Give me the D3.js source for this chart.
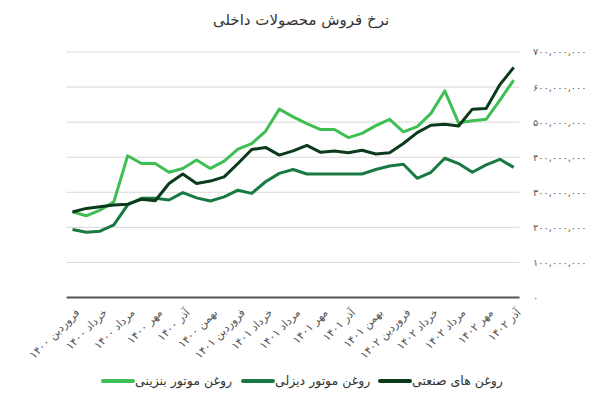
<!DOCTYPE html>
<html><head><meta charset="utf-8">
<script src="https://cdn.jsdelivr.net/npm/d3@7"></script>
<style>
body{margin:0;background:#fff;}
svg text{font-family:"DejaVu Sans","Noto Sans",sans-serif;}
</style></head>
<body><svg id="c" width="600" height="404"></svg>
<script>
const months = ["فروردین","اردیبهشت","خرداد","تیر","مرداد","شهریور","مهر","آبان","آذر","دی","بهمن","اسفند"];
const categories = [];
["۱۴۰۰","۱۴۰۱","۱۴۰۲"].forEach((y,yi)=>{ months.forEach((m,mi)=>{ if(yi<2 || mi<9) categories.push(m+" "+y); }); });

const benzini = [244,233,249,273,404,382,382,357,368,392,368,389,423,439,474,537,515,496,479,479,456,468,490,508,472,487,525,589,498,504,508,563,620];
const sanati  = [244,254,259,264,266,280,276,325,352,325,332,344,382,422,428,406,418,434,414,418,413,420,409,413,439,470,491,494,489,537,539,607,656];
const dizeli  = [194,186,189,207,264,283,283,278,299,284,275,287,306,297,330,354,365,352,352,352,352,352,365,375,380,340,357,397,382,357,378,394,371];
const yTicks = [0,100,200,300,400,500,600,700];
const seriesNames = ["روغن موتور بنزینی","روغن موتور دیزلی","روغن های صنعتی"];
const colors = ["#3fbf53","#187a42","#0b3a1d"];

const toFa = s => String(s).replace(/\d/g, d => "۰۱۲۳۴۵۶۷۸۹"[d]);
const svg = d3.select("#c");
const L=66.7, R=519.5, T=52, B=297.5;
const x = d3.scalePoint().domain(categories).range([L,R]).padding(0.42);
const y = d3.scaleLinear().domain([0,700]).range([B,T]);

// grid
svg.append("g").selectAll("line").data(yTicks.filter(d=>d>0)).join("line")
  .attr("x1",L).attr("x2",R).attr("y1",d=>y(d)).attr("y2",d=>y(d))
  .attr("stroke","#d9d9d9").attr("stroke-width",1);
// y labels
svg.append("g").selectAll("text").data(yTicks).join("text")
  .attr("x",533).attr("y",d=>y(d)).attr("dy","0.35em")
  .attr("font-size",9.8).attr("fill","#555")
  .text(d=> d===0 ? "۰" : toFa(d3.format(",")(d*1e6)));
// baseline
svg.append("line").attr("x1",L).attr("x2",R).attr("y1",B).attr("y2",B)
  .attr("stroke","#555").attr("stroke-width",2);
// x labels
svg.append("g").selectAll("text").data(categories.filter((d,i)=>i%2===0)).join("text")
  .attr("transform",d=>`translate(${x(d)+5},${B+13}) rotate(-45)`)
  .attr("text-anchor","end").attr("dy","0.35em")
  .attr("font-size",11).attr("fill","#555").text(d=>d);

const line = d3.line().x((d,i)=>x(categories[i])).y(d=>y(d));
[dizeli,benzini,sanati].forEach((s,k)=>{
  const ci = [1,0,2][k];
  svg.append("path").attr("d",line(s)).attr("fill","none")
    .attr("stroke",colors[ci]).attr("stroke-width",3).attr("stroke-linejoin","round");
});

// title
svg.append("text").attr("x",301).attr("y",25).attr("text-anchor","middle")
  .attr("font-size",15).attr("fill","#333").text("نرخ فروش محصولات داخلی");

// legend
const leg = [{n:0,x:103},{n:1,x:243},{n:2,x:380}];
leg.forEach(o=>{
  svg.append("line").attr("x1",o.x).attr("x2",o.x+30).attr("y1",381).attr("y2",381)
    .attr("stroke",colors[o.n]).attr("stroke-width",4).attr("stroke-linecap","round");
  svg.append("text").attr("x",o.x+32).attr("y",381).attr("dy","0.35em")
    .attr("font-size",12.5).attr("fill","#333").attr("text-anchor","start")
    .style("direction","ltr").text(seriesNames[o.n]);
});
</script></body></html>
